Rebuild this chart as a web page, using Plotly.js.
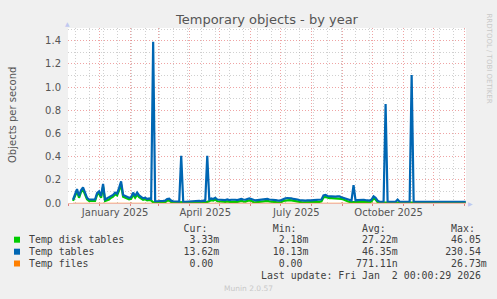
<!DOCTYPE html>
<html>
<head>
<meta charset="utf-8">
<script src="https://cdn.plot.ly/plotly-3.0.1.min.js"></script>
<style>html,body{margin:0;padding:0;background:#F0F0F0;}#chart{width:497px;height:299px;}</style>
</head>
<body>
<div id="chart"></div>
<script>
// ---- data (2-day samples starting 2024-12-06) ----
var seriesStart = '2024-12-06';
var stepDays = 2;

var tempDiskTables = [
0.018,0.065,0.100,0.045,0.095,0.115,0.075,0.032,0.018,0.016,
0.016,0.018,0.070,0.085,0.045,0.140,0.018,0.025,0.030,0.045,
0.055,0.075,0.065,0.110,0.160,0.055,0.045,0.040,0.032,0.036,
0.072,0.045,0.072,0.050,0.036,0.028,0.032,0.022,0.026,0.022,
0.006,0.005,0.005,0.006,0.007,0.006,0.007,0.020,0.022,0.008,
0.005,0.005,0.005,0.004,0.006,0.004,0.004,0.005,0.004,0.005,
0.006,0.008,0.006,0.007,0.006,0.008,0.007,0.010,0.015,0.025,
0.020,0.030,0.015,0.012,0.010,0.012,0.010,0.014,0.010,0.012,
0.014,0.012,0.010,0.014,0.018,0.014,0.012,0.018,0.022,0.018,
0.008,0.006,0.008,0.010,0.012,0.018,0.020,0.018,0.014,0.014,
0.012,0.008,0.006,0.005,0.008,0.018,0.022,0.025,0.025,0.022,
0.018,0.018,0.014,0.010,0.007,0.006,0.006,0.007,0.006,0.007,
0.010,0.010,0.012,0.010,0.014,0.048,0.052,0.045,0.042,0.042,
0.041,0.040,0.042,0.042,0.035,0.030,0.020,0.015,0.010,0.007,
0.010,0.007,0.010,0.012,0.014,0.012,0.010,0.007,0.006,0.014,
0.040,0.030,0.008,0.004,0.004,0.004,0.004,0.004,0.004,0.004,
0.004,0.004,0.006,0.004,0.004,0.004,0.004,0.004,0.004,0.004,
0.004,0.004,0.004,0.004,0.004,0.004,0.004,0.004,0.004,0.004,
0.004,0.004,0.004,0.004,0.004,0.004,0.004,0.004,0.004,0.004,
0.004,0.004,0.004,0.004,0.004,0.004,0.004
];

var tempTables = [
0.028,0.080,0.120,0.060,0.110,0.135,0.090,0.045,0.030,0.028,
0.028,0.030,0.085,0.100,0.060,0.164,0.030,0.040,0.045,0.060,
0.070,0.090,0.080,0.130,0.186,0.070,0.060,0.055,0.045,0.050,
0.090,0.060,0.090,0.065,0.050,0.040,0.045,0.035,0.040,0.035,
1.392,0.015,0.015,0.018,0.020,0.018,0.020,0.035,0.038,0.020,
0.015,0.015,0.014,0.012,0.407,0.011,0.011,0.012,0.011,0.012,
0.015,0.020,0.015,0.018,0.015,0.020,0.018,0.407,0.030,0.040,
0.035,0.045,0.030,0.028,0.025,0.028,0.025,0.030,0.025,0.028,
0.030,0.028,0.025,0.030,0.035,0.030,0.028,0.035,0.040,0.035,
0.025,0.022,0.025,0.028,0.030,0.035,0.037,0.035,0.030,0.030,
0.028,0.025,0.022,0.020,0.025,0.035,0.040,0.043,0.043,0.040,
0.035,0.035,0.030,0.025,0.022,0.020,0.020,0.022,0.020,0.022,
0.025,0.025,0.028,0.025,0.030,0.065,0.070,0.060,0.058,0.058,
0.057,0.055,0.057,0.057,0.050,0.045,0.035,0.030,0.025,0.022,
0.155,0.022,0.025,0.028,0.030,0.028,0.025,0.022,0.020,0.030,
0.057,0.045,0.020,0.011,0.011,0.011,0.855,0.011,0.011,0.011,
0.011,0.011,0.030,0.011,0.011,0.011,0.011,0.011,0.011,1.105,
0.011,0.011,0.011,0.011,0.011,0.011,0.011,0.011,0.011,0.011,
0.011,0.011,0.011,0.011,0.011,0.011,0.011,0.011,0.011,0.011,
0.011,0.011,0.011,0.011,0.011,0.011,0.011
];

var filesStart = '2024-12-06';
var filesStepDays = 28;
var tempFiles = [0,0,0,0,0,0,0,0,0,0,0,0,0,0,0];

var seriesNames = ['Temp disk tables', 'Temp tables', 'Temp files'];
var seriesColors = ['#00CC00', '#0066B3', '#FF8000'];
var curVals = ['3.33m', '13.62m', '0.00'];
var minVals = ['2.18m', '10.13m', '0.00'];
var avgVals = ['27.22m', '46.35m', '771.11n'];
var maxVals = ['46.05', '230.54', '26.73m'];

var quarterLabelDates = ['2025-01-17', '2025-04-17', '2025-07-17', '2025-10-17'];
var lastUpdate = 'Last update: Fri Jan  2 00:00:29 2026';

// ---- layout helpers ----
var W = 497, H = 299, L = 68, R = 31, T = 28, B = 96;
var PW = W - L - R, PH = H - T - B;
function px(x) { return (x - L) / PW; }
function py(y) { return (H - B - y) / PH; }
var DAY = 86400000;

var traces = [
  { type: 'scatter', mode: 'lines', name: seriesNames[0], x0: seriesStart, dx: stepDays * DAY,
    y: tempDiskTables, line: { color: seriesColors[0], width: 2.2 }, xaxis: 'x', yaxis: 'y' },
  { type: 'scatter', mode: 'lines', name: seriesNames[1], x0: seriesStart, dx: stepDays * DAY,
    y: tempTables, line: { color: seriesColors[1], width: 2.2 }, xaxis: 'x', yaxis: 'y' },
  { type: 'scatter', mode: 'lines', name: seriesNames[2], x0: filesStart, dx: filesStepDays * DAY,
    y: tempFiles, line: { color: seriesColors[2], width: 1 }, xaxis: 'x', yaxis: 'y', opacity: 0.4 }
];

function nb(s) { return s.replace(/ /g, '\u00A0'); }
function fmt(s) { if (/[0-9]$/.test(s)) s += ' '; return s; }
function padL(s, n) { while (s.length < n) s = ' ' + s; return s; }
function padR(s, n) { while (s.length < n) s = s + ' '; return s; }

var monoFont = { family: 'DejaVu Sans Mono', size: 9.9, color: '#404040' };
var annotations = [];
var header = padR('', 26) + 'Cur:' + padR('', 11) + 'Min:' + padR('', 11) + 'Avg:' + padR('', 11) + 'Max:';
annotations.push({ xref: 'paper', yref: 'paper', x: px(26.7), y: py(228.3), xanchor: 'left', yanchor: 'middle',
  text: nb(header), showarrow: false, font: monoFont });
var rowY = [239.7, 251.7, 263.5];
var shapes = [];
for (var i = 0; i < seriesNames.length; i++) {
  var row = padR(seriesNames[i], 25) + padL(fmt(curVals[i]), 7) + padL(fmt(minVals[i]), 15) +
            padL(fmt(avgVals[i]), 15) + padL(fmt(maxVals[i]), 15);
  annotations.push({ xref: 'paper', yref: 'paper', x: px(26.7), y: py(rowY[i]), xanchor: 'left', yanchor: 'middle',
    text: nb(row), showarrow: false, font: monoFont });
  shapes.push({ type: 'rect', xref: 'paper', yref: 'paper', x0: px(14), x1: px(20), y0: py(rowY[i] + 3), y1: py(rowY[i] - 3),
    fillcolor: seriesColors[i], line: { width: 0 }, layer: 'above' });
}
annotations.push({ xref: 'paper', yref: 'paper', x: px(483), y: py(275.5), xanchor: 'right', yanchor: 'middle',
  text: nb(lastUpdate), showarrow: false, font: monoFont });
annotations.push({ xref: 'paper', yref: 'paper', x: px(248), y: py(288.5), xanchor: 'center', yanchor: 'middle',
  text: 'Munin 2.0.57', showarrow: false, font: { family: 'DejaVu Sans', size: 7.5, color: '#C8C8C8' } });
annotations.push({ xref: 'paper', yref: 'paper', x: px(488.5), y: py(58), xanchor: 'center', yanchor: 'middle',
  text: 'RRDTOOL / TOBI OETIKER', textangle: 90, showarrow: false, font: { family: 'DejaVu Sans', size: 7, color: '#C8C8C8' } });
annotations.push({ xref: 'paper', yref: 'paper', x: px(67.5), y: py(24), xanchor: 'center', yanchor: 'middle',
  text: '\u25B2', showarrow: false, font: { family: 'DejaVu Sans', size: 6, color: '#C0C8F0' } });
annotations.push({ xref: 'paper', yref: 'paper', x: px(470), y: py(203), xanchor: 'center', yanchor: 'middle',
  text: '\u25B6', showarrow: false, font: { family: 'DejaVu Sans', size: 6, color: '#C0C8F0' } });
annotations.push({ xref: 'paper', yref: 'paper', x: px(12), y: py(115), xanchor: 'center', yanchor: 'middle',
  text: 'Objects per second', textangle: -90, showarrow: false, font: { family: 'DejaVu Sans', size: 10, color: '#555555' } });

var majorGrid = 'rgba(225,90,90,0.55)';
var minorGrid = 'rgba(150,150,150,0.45)';
var gridDash = '1px,2px';
var xRange = ['2024-12-01 00:00', '2026-01-02 06:00'];

var layout = {
  width: W, height: H,
  margin: { l: L, r: R, t: T, b: B, pad: 0 },
  paper_bgcolor: '#F0F0F0', plot_bgcolor: '#FFFFFF',
  showlegend: false,
  title: { text: 'Temporary objects - by year', x: 0.5, xref: 'paper', xanchor: 'center', y: 1 - 19.5 / H, yanchor: 'middle',
    font: { family: 'DejaVu Sans', size: 13, color: '#555555' } },
  xaxis: {
    type: 'date', range: xRange, fixedrange: true,
    tick0: '2024-12-01', dtick: 'M1', showticklabels: false,
    showgrid: true, gridcolor: majorGrid, griddash: gridDash, gridwidth: 1,
    ticks: 'outside', ticklen: 2, tickcolor: '#E08080',
    minor: { tick0: '2024-12-08', dtick: 14 * DAY, showgrid: true, gridcolor: minorGrid, griddash: gridDash, gridwidth: 1, ticks: '' },
    zeroline: false, showline: true, linecolor: '#F0B8A8', linewidth: 1
  },
  xaxis2: {
    type: 'date', range: xRange, overlaying: 'x', side: 'bottom', anchor: 'y', fixedrange: true,
    tickmode: 'array', tickvals: quarterLabelDates, tickformat: '%B %Y',
    showgrid: false, zeroline: false, ticks: '', showline: false,
    tickfont: { family: 'DejaVu Sans', size: 10, color: '#555555' }, ticklabelstandoff: 2
  },
  yaxis: {
    range: [0, 1.51], fixedrange: true, dtick: 0.2, tick0: 0, tickformat: '.1f',
    showgrid: true, gridcolor: majorGrid, griddash: gridDash, gridwidth: 1,
    minor: { dtick: 0.1, showgrid: true, gridcolor: minorGrid, griddash: gridDash, gridwidth: 1 },
    zeroline: false, showline: false, ticks: '',
    tickfont: { family: 'DejaVu Sans', size: 10, color: '#555555' }, ticklabelstandoff: 6
  },
  annotations: annotations,
  shapes: shapes
};

// empty trace so that the label axis (xaxis2) is drawn
traces.push({ type: 'scatter', mode: 'lines', x: [], y: [], xaxis: 'x2', yaxis: 'y', hoverinfo: 'skip', showlegend: false });

Plotly.newPlot('chart', traces, layout, { staticPlot: true, displayModeBar: false });
</script>
</body>
</html>
